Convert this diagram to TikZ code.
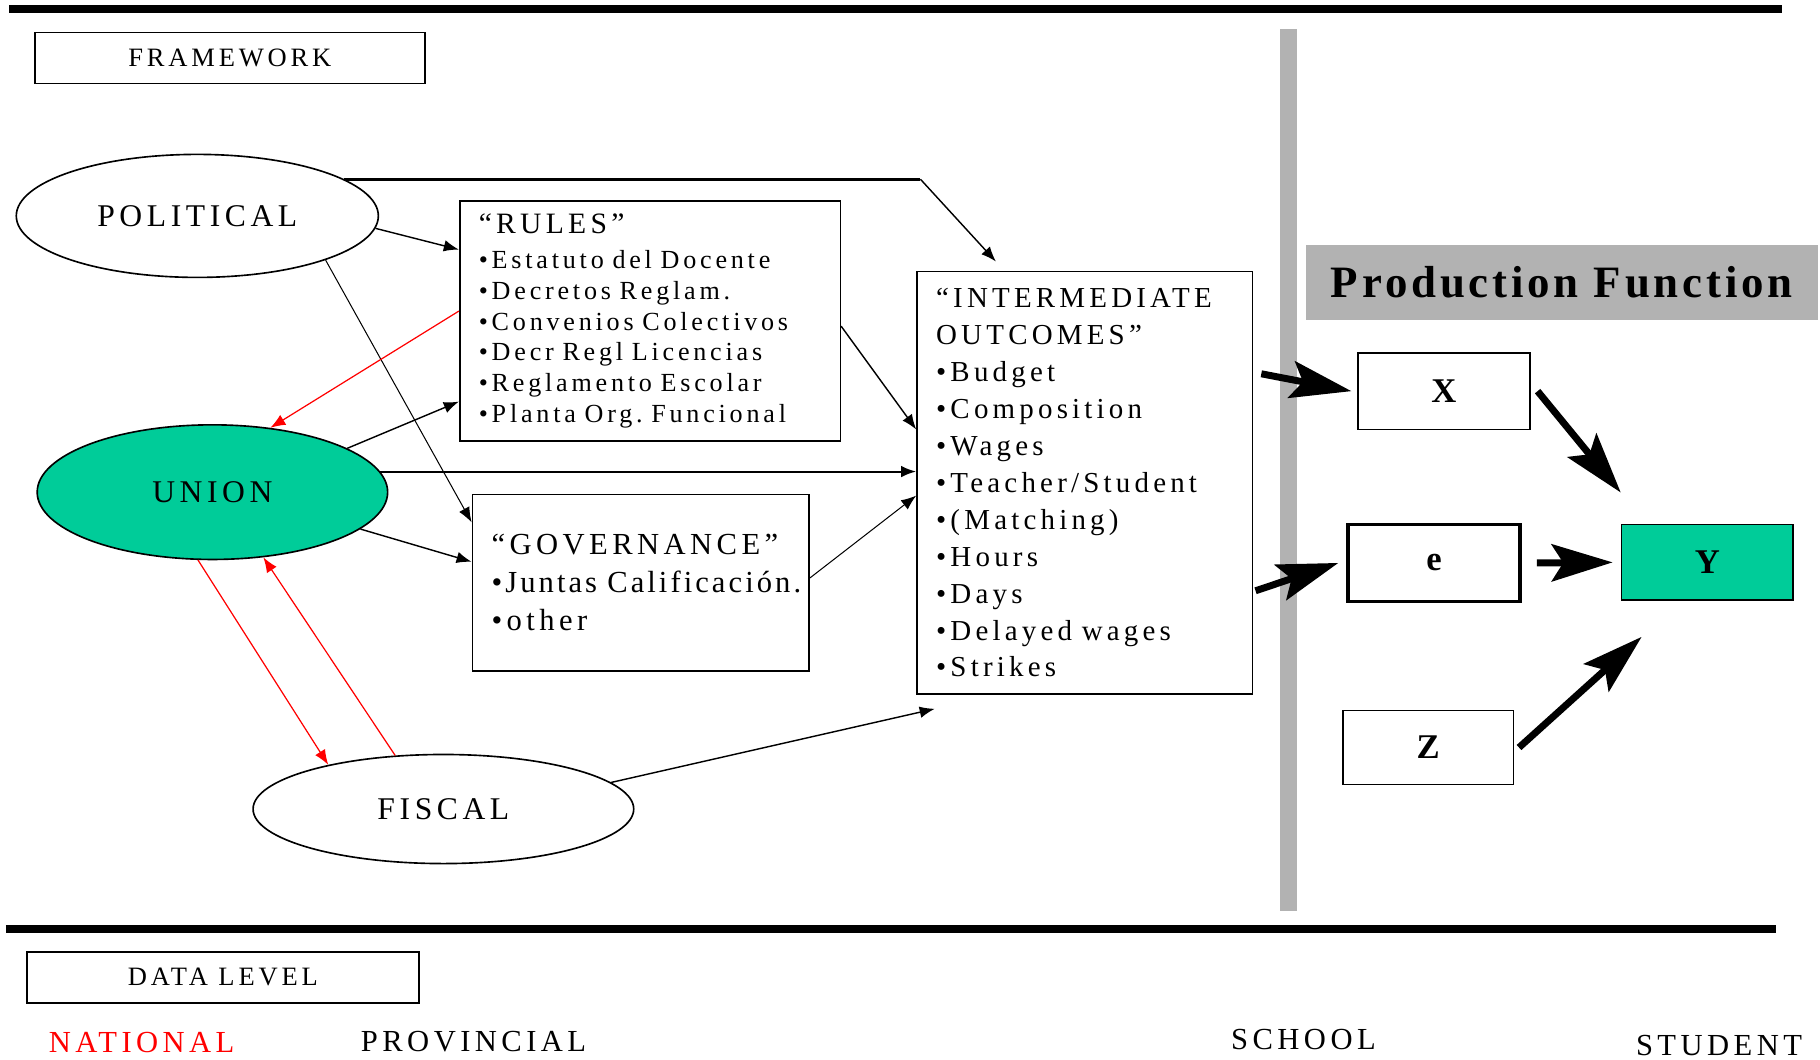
\documentclass[tikz,border=0pt]{standalone}
\usepackage{fontspec}
\setmainfont{Liberation Serif}[LetterSpace=14.5]
\newfontfamily\boldfam{Liberation Serif}[LetterSpace=8.5]
\usetikzlibrary{shapes.geometric,arrows.meta}
\definecolor{uniongreen}{RGB}{0,204,153}
\definecolor{bargray}{RGB}{178,178,178}
\tikzset{
  frame/.style={draw, line width=0.8pt, minimum height=0.88cm, inner sep=0pt, font=\fontsize{13}{15}\selectfont},
  blob/.style={ellipse, draw, line width=0.8pt, inner sep=0pt, font=\fontsize{15.5}{18}\selectfont},
  listbox/.style={draw, line width=0.8pt, align=left, inner xsep=0.33cm, inner ysep=0pt},
  varbox/.style={draw, line width=0.8pt, minimum width=2.96cm, minimum height=1.32cm, inner sep=0pt, font=\boldfam\bfseries\fontsize{17}{20}\selectfont},
  level/.style={inner sep=0pt, font=\fontsize{15}{18}\selectfont},
  link/.style={-{Latex[length=0.26cm,width=0.2cm]}, line width=0.7pt},
  redlink/.style={link, draw=red, line width=0.6pt},
  fat/.style={-{Stealth[length=1.05cm,width=0.64cm,inset=0.2cm]}, line width=0.12cm}
}
\begin{document}
\begin{tikzpicture}[x=0.02cm, y=-0.02cm]
\useasboundingbox (0,0) rectangle (1568,913);
% bars
\draw[line width=0.14cm] (8,8) -- (1535,8);
\draw[line width=0.14cm] (5,800) -- (1530,800);
\fill[bargray] (1103,25) rectangle (1117,785);
% framework side
\node[frame, minimum width=6.72cm] (fw) at (198,50) {FRAMEWORK};
\node[blob, minimum width=6.24cm, minimum height=2.12cm] (pol) at (170,186) {POLITICAL};
\node[blob, fill=uniongreen, minimum width=6.04cm, minimum height=2.32cm] (un) at (183,424) {UNION};
\node[blob, minimum width=6.56cm, minimum height=1.88cm] (fis) at (382,697) {FISCAL};
\node[listbox, text width=5.9cm, minimum height=4.14cm, font=\fontsize{12.8}{15.1}\selectfont] (rules) at (560,276.5)
  {{\fontsize{14.5}{15.1}\selectfont “RULES”}\\[2pt]
   •Estatuto del Docente\\ •Decretos Reglam.\\ •Convenios Colectivos\\
   •Decr Regl Licencias\\ •Reglamento Escolar\\ \mbox{•Planta Org.\ Funcional}};
\node[listbox, text width=5.14cm, minimum height=3.04cm, font=\fontsize{15}{18.5}\selectfont] (gov) at (552,502)
  {“GOVERNANCE”\\ \mbox{\addfontfeature{LetterSpace=10}•Juntas Calificación.}\\ •other};
\node[listbox, text width=5.12cm, minimum height=7.28cm, font=\fontsize{14.2}{18.1}\selectfont] (int) at (934.5,416)
  {“INTERMEDIATE\\ OUTCOMES”\\ •Budget\\ •Composition\\ •Wages\\ •Teacher/Student\\
   •(Matching)\\ •Hours\\ •Days\\ \mbox{•Delayed wages}\\ •Strikes};
\coordinate (pbend) at (793,153);
% production function side
\node[fill=bargray, minimum width=8.82cm, minimum height=1.3cm, font=\boldfam\bfseries\fontsize{22}{26}\selectfont] (pf) at (1345.5,243.5) {Production Function};
\node[varbox] (vx) at (1244,337) {X};
\node[varbox, line width=1.7pt] (ve) at (1235.5,485) {e};
\node[varbox, fill=uniongreen, minimum height=1.3cm] (vy) at (1471,484.5) {Y};
\node[varbox, minimum width=2.94cm, minimum height=1.28cm] (vz) at (1230.5,644) {Z};
% data level
\node[frame, minimum width=6.76cm] (dl) at (192,842) {DATA LEVEL};
\node[level, text=red] (nat) at (122,898) {NATIONAL};
\node[level] (prov) at (408,897) {PROVINCIAL};
\node[level] (sch) at (1123,896) {SCHOOL};
\node[level] (stu) at (1481,901) {STUDENT};
% connectors
\draw[line width=1.3pt] (pol.14) -- (pol.14 -| pbend);
\draw[link] (pol.14 -| pbend) -- ([xshift=-1.53cm,yshift=0.16cm]int.north);
\draw[link] (pol.-4) -- ([yshift=1.23cm]rules.west);
\draw[link, line width=0.5pt] (pol.-19) -- ([yshift=1.04cm]gov.west);
\draw[redlink] ([yshift=0.17cm]rules.west) -- (un.48);
\draw[link] (un.18) -- ([yshift=-1.39cm]rules.west);
\draw[link, line width=1pt] (un.7) -- (un.7 -| int.west);
\draw[link] (un.-14) -- ([yshift=0.36cm]gov.west);
\draw[redlink] (un.-102) -- (fis.159);
\draw[redlink] (fis.132) -- (un.-52);
\draw[link] (fis.9) -- ([xshift=0.32cm,yshift=-0.24cm]int.south west);
\draw[link] ([yshift=-0.09cm]rules.east) -- ([yshift=0.92cm]int.west);
\draw[link, line width=0.5pt] ([yshift=0.08cm]gov.east) -- ([yshift=-0.22cm]int.west);
\draw[fat] ([xshift=0.14cm,yshift=1.88cm]int.east) -- ([xshift=-0.1cm]vx.west);
\draw[fat] ([xshift=0.04cm,yshift=-1.86cm]int.east) -- ([xshift=-0.14cm]ve.west);
\draw[fat] ([xshift=0.12cm]vx.east) -- ([yshift=0.54cm]vy.north west);
\draw[fat] ([xshift=0.26cm]ve.east) -- ([xshift=-0.14cm]vy.west);
\draw[fat] ([xshift=0.08cm]vz.east) -- ([xshift=0.36cm,yshift=-0.62cm]vy.south west);
\end{tikzpicture}
\end{document}
